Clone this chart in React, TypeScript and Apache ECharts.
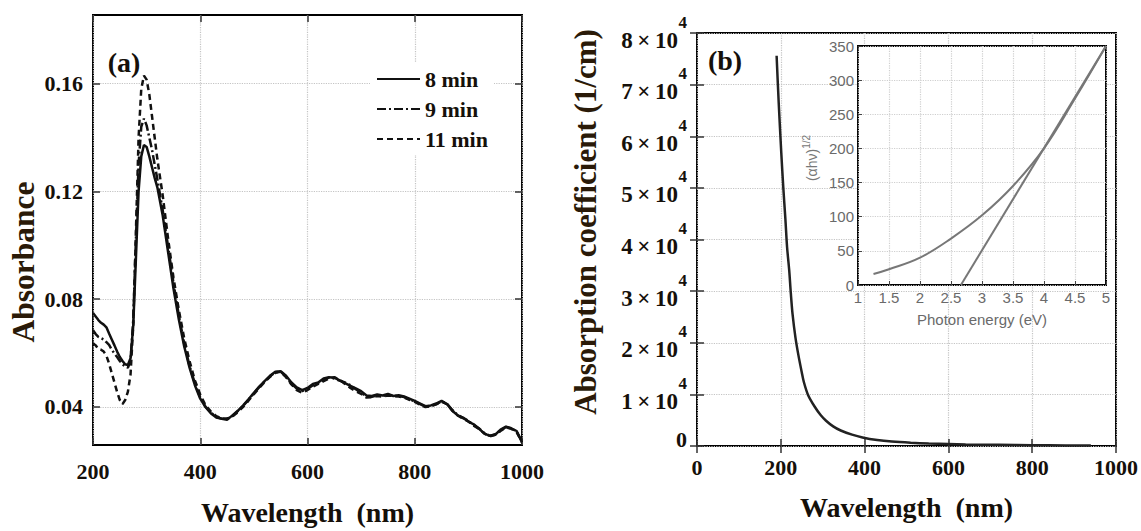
import { useEffect, useRef } from "react";
import * as echarts from "echarts";

// ---------- Panel (a): absorbance spectra ----------
const wavelengthA = [
  200, 205, 210, 215, 220, 225, 230, 235, 240, 245, 250, 255, 260, 265, 270, 275, 280, 285, 290, 295,
  300, 305, 310, 315, 320, 330, 340, 350, 360, 370, 380, 390, 400, 410, 420, 430, 440, 450, 460, 470,
  480, 490, 500, 510, 520, 530, 540, 550, 560, 570, 580, 590, 600, 610, 620, 630, 640, 650, 660, 670,
  680, 690, 700, 710, 720, 730, 740, 750, 760, 770, 780, 790, 800, 810, 820, 830, 840, 850, 860, 870,
  880, 890, 900, 910, 920, 930, 940, 950, 960, 970, 980, 990, 1000,
];
const abs8min = [
  0.0748, 0.0735, 0.0722, 0.0712, 0.0705, 0.0695, 0.0672, 0.065, 0.0628, 0.0605, 0.0585, 0.057, 0.0558, 0.0555, 0.058, 0.07, 0.095, 0.12, 0.133, 0.1372,
  0.1365, 0.133, 0.129, 0.125, 0.1215, 0.111, 0.0975, 0.084, 0.0725, 0.0625, 0.0545, 0.048, 0.043, 0.0398, 0.0375, 0.036, 0.0355, 0.0352, 0.0368, 0.0385,
  0.0405, 0.0428, 0.0452, 0.0475, 0.0495, 0.0515, 0.053, 0.0532, 0.0515, 0.049, 0.0472, 0.0462, 0.047, 0.0485, 0.049, 0.0505, 0.051, 0.0508, 0.0498, 0.0488,
  0.0478, 0.0468, 0.0458, 0.0442, 0.044, 0.0446, 0.0442, 0.0448, 0.044, 0.0443, 0.0438, 0.043, 0.0422, 0.0412, 0.0402, 0.0405, 0.0412, 0.0422, 0.041, 0.0385,
  0.0368, 0.036, 0.0345, 0.0335, 0.0318, 0.03, 0.0292, 0.0296, 0.0315, 0.0326, 0.032, 0.031, 0.0268,
];
const abs9min = [
  0.0684, 0.067, 0.066, 0.0655, 0.065, 0.064, 0.063, 0.0612, 0.0598, 0.0585, 0.057, 0.0558, 0.055, 0.0545, 0.057, 0.072, 0.102, 0.13, 0.144, 0.147,
  0.1445, 0.14, 0.1355, 0.13, 0.1245, 0.113, 0.0995, 0.086, 0.074, 0.0635, 0.0552, 0.0486, 0.0435, 0.04, 0.0378, 0.0362, 0.0356, 0.0355, 0.0366, 0.0384,
  0.0403, 0.0426, 0.045, 0.0473, 0.0494, 0.0513, 0.0528, 0.053, 0.0512, 0.0486, 0.0468, 0.0458, 0.0466, 0.048, 0.0488, 0.05, 0.0508, 0.0505, 0.0497, 0.049,
  0.048, 0.0465, 0.0452, 0.0438, 0.0437, 0.0443, 0.044, 0.0444, 0.0441, 0.044, 0.0436, 0.0428, 0.042, 0.041, 0.04, 0.0403, 0.041, 0.042, 0.0412, 0.0388,
  0.037, 0.0358, 0.0348, 0.0332, 0.032, 0.0302, 0.0292, 0.0298, 0.0312, 0.0325, 0.032, 0.0308, 0.027,
];
const abs11min = [
  0.0636, 0.0628, 0.0615, 0.0612, 0.0605, 0.059, 0.056, 0.0525, 0.049, 0.0455, 0.0425, 0.041, 0.0425, 0.0455, 0.052, 0.07, 0.105, 0.14, 0.158, 0.163,
  0.1615, 0.156, 0.148, 0.14, 0.132, 0.1185, 0.1025, 0.088, 0.076, 0.0655, 0.057, 0.0498, 0.0445, 0.0405, 0.0382, 0.0365, 0.0357, 0.0356, 0.0364, 0.038,
  0.04, 0.0423, 0.0447, 0.047, 0.0492, 0.0511, 0.0526, 0.053, 0.051, 0.0483, 0.0462, 0.0452, 0.0462, 0.0475, 0.0485, 0.0495, 0.0505, 0.051, 0.05, 0.0485,
  0.047, 0.0458, 0.0448, 0.0434, 0.0435, 0.044, 0.0438, 0.0442, 0.044, 0.0438, 0.0434, 0.0426, 0.0418, 0.0408, 0.0399, 0.0402, 0.0409, 0.0419, 0.041, 0.0386,
  0.0368, 0.0356, 0.0346, 0.033, 0.0318, 0.03, 0.029, 0.0296, 0.031, 0.0323, 0.0318, 0.0306, 0.0268,
];
const absTicks = [0.04, 0.08, 0.12, 0.16];
const seriesNamesA = ["8 min", "9 min", "11 min"];

// ---------- Panel (b): absorption coefficient ----------
const wavelengthB = [190, 195, 201, 206, 211, 215, 220, 224, 228, 235, 242, 250, 255, 265, 281, 295, 308, 325, 343, 370, 395, 430, 465, 510, 553, 600, 641, 720, 800, 880, 940];
const alphaB = [75600, 66500, 57000, 50000, 43900, 38500, 34100, 29500, 25600, 21000, 17600, 14300, 12400, 9900, 7600, 6000, 4900, 3800, 3000, 2200, 1650, 1150, 850, 620, 470, 380, 300, 220, 150, 110, 80];

// ---------- Inset: Tauc plot ----------
const photonEnergy = [1.25, 1.5, 2.0, 2.5, 3.0, 3.5, 4.0, 4.5, 5.0];
const taucValues = [16, 23, 40, 68, 102, 145, 200, 273, 350];
const fitEnergy = [2.66, 5.0];
const fitValues = [0, 350];

const SERIF = '"Times New Roman", "Liberation Serif", serif';
const SANS = '"Liberation Sans", Arial, Helvetica, sans-serif';
const TEXT = "#15100a";
const THIN = "\u2009";

export default function App() {
  const ref = useRef<HTMLDivElement>(null);

  useEffect(() => {
    const chart = echarts.init(ref.current as HTMLDivElement, null, { renderer: "svg" });
    const zip = (xs: number[], ys: number[]) => xs.map((x, i) => [x, ys[i]]);
    const dotted = { show: true, lineStyle: { color: "#c4c4c4", type: "dotted" as const, width: 1.2 } };
    const tickLabel = { color: TEXT, fontFamily: SERIF, fontWeight: "bold" as const, fontSize: 22 };
    const titleStyle = { color: TEXT, fontFamily: SERIF, fontWeight: "bold" as const, fontSize: 28 };
    const innerTick = (len: number, extra: any = {}) => ({ show: true, inside: true, length: len, lineStyle: { color: "#333", width: 1.5 }, ...extra });
    const insetLabel = { color: "#6a6a6a", fontFamily: SANS, fontSize: 15 };
    const plain = (v: number) => String(v);

    const option: any = {
      animation: false,
      backgroundColor: "#fff",
      grid: [
        { left: 93, top: 15, width: 429, height: 439, show: true, borderColor: "#000", borderWidth: 2, backgroundColor: "transparent" },
        { left: 697, top: 33, width: 421, height: 413, show: true, borderColor: "#000", borderWidth: 2, backgroundColor: "transparent" },
        { left: 858, top: 46, width: 248, height: 239, show: true, borderColor: "#000", borderWidth: 2, backgroundColor: "#fff", z: 3 },
      ],
      xAxis: [
        {
          type: "value", gridIndex: 0, min: 200, max: 1000, interval: 200,
          axisLine: { show: false }, axisTick: innerTick(7),
          axisLabel: { ...tickLabel, margin: 15, formatter: plain }, splitLine: dotted,
          name: "Wavelength  (nm)", nameLocation: "middle", nameGap: 53, nameTextStyle: titleStyle,
        },
        {
          type: "value", gridIndex: 0, position: "top", min: 200, max: 1000, interval: 200,
          axisLine: { show: false }, axisTick: innerTick(7), axisLabel: { show: false }, splitLine: { show: false },
        },
        {
          type: "value", gridIndex: 1, min: 0, max: 1000, interval: 200,
          axisLine: { show: false }, axisTick: innerTick(7),
          axisLabel: { ...tickLabel, margin: 10, formatter: plain }, splitLine: dotted,
          name: "Wavelength  (nm)", nameLocation: "middle", nameGap: 47, nameTextStyle: titleStyle,
        },
        {
          type: "value", gridIndex: 1, position: "top", min: 0, max: 1000, interval: 200,
          axisLine: { show: false }, axisTick: innerTick(7), axisLabel: { show: false }, splitLine: { show: false },
        },
        {
          type: "value", gridIndex: 2, min: 1, max: 5, interval: 0.5, z: 4,
          axisLine: { show: false }, axisTick: innerTick(4, { lineStyle: { color: "#444", width: 1 } }),
          axisLabel: { ...insetLabel, margin: 5 },
          splitLine: { show: true, lineStyle: { color: "#cfcfcf", type: "dotted", width: 1.2 } },
          name: "Photon energy (eV)", nameLocation: "middle", nameGap: 27, nameTextStyle: { ...insetLabel },
        },
      ],
      yAxis: [
        {
          type: "value", gridIndex: 0, min: 0.0258, max: 0.1855,
          axisLine: { show: false },
          axisTick: innerTick(7, { customValues: absTicks }),
          axisLabel: { ...tickLabel, margin: 10, customValues: absTicks, formatter: (v: number) => v.toFixed(2) },
          splitLine: dotted,
        },
        {
          type: "value", gridIndex: 0, position: "right", min: 0.0258, max: 0.1855,
          axisLine: { show: false }, axisTick: innerTick(7, { customValues: absTicks }),
          axisLabel: { show: false, customValues: absTicks }, splitLine: { show: false },
        },
        {
          type: "value", gridIndex: 1, min: 0, max: 80000, interval: 10000,
          axisLine: { show: false }, axisTick: innerTick(7),
          axisLabel: {
            margin: 10,
            formatter: (v: number) => (v === 0 ? "{z|0}" : `{s|4}\n{b|${v / 10000}${THIN}×${THIN}10}{sp| }`),
            rich: {
              b: { ...tickLabel, fontSize: 23, lineHeight: 22 },
              s: { ...tickLabel, fontSize: 17, lineHeight: 14 },
              sp: { ...tickLabel, fontSize: 15, width: 9 },
              z: { ...tickLabel, fontSize: 22, lineHeight: 22, padding: [0, 0, 14, 0] },
            },
          },
          splitLine: dotted,
        },
        {
          type: "value", gridIndex: 1, position: "right", min: 0, max: 80000, interval: 10000,
          axisLine: { show: false }, axisTick: innerTick(7), axisLabel: { show: false }, splitLine: { show: false },
        },
        {
          type: "value", gridIndex: 2, min: 0, max: 350, interval: 50, z: 4,
          axisLine: { show: false }, axisTick: innerTick(4, { lineStyle: { color: "#444", width: 1 } }),
          axisLabel: { ...insetLabel, margin: 4 },
          splitLine: { show: true, lineStyle: { color: "#cfcfcf", type: "dotted", width: 1.2 } },
        },
      ],
      legend: {
        data: seriesNamesA,
        orient: "vertical",
        left: 370,
        top: 63,
        itemWidth: 43,
        itemHeight: 14,
        itemGap: 6,
        padding: [4, 6, 4, 6],
        backgroundColor: "#fff",
        itemStyle: { opacity: 0 },
        textStyle: { ...tickLabel, fontSize: 22, lineHeight: 24 },
      },
      series: [
        {
          name: seriesNamesA[0], type: "line", xAxisIndex: 0, yAxisIndex: 0, symbol: "none",
          data: zip(wavelengthA, abs8min), lineStyle: { color: "#111", width: 2.5, type: "solid" },
          itemStyle: { color: "#111" },
        },
        {
          name: seriesNamesA[1], type: "line", xAxisIndex: 0, yAxisIndex: 0, symbol: "none",
          data: zip(wavelengthA, abs9min), lineStyle: { color: "#111", width: 2.5, type: [9, 3, 2, 3] },
          itemStyle: { color: "#111" },
        },
        {
          name: seriesNamesA[2], type: "line", xAxisIndex: 0, yAxisIndex: 0, symbol: "none",
          data: zip(wavelengthA, abs11min), lineStyle: { color: "#111", width: 2.5, type: [6, 4] },
          itemStyle: { color: "#111" },
        },
        {
          name: "alpha", type: "line", xAxisIndex: 2, yAxisIndex: 2, symbol: "none", smooth: 0.3,
          data: zip(wavelengthB, alphaB), lineStyle: { color: "#222", width: 2.5 },
        },
        {
          name: "tauc", type: "line", xAxisIndex: 4, yAxisIndex: 4, symbol: "none", smooth: 0.4, z: 5,
          data: zip(photonEnergy, taucValues), lineStyle: { color: "#777", width: 2 },
        },
        {
          name: "fit", type: "line", xAxisIndex: 4, yAxisIndex: 4, symbol: "none", z: 5,
          data: zip(fitEnergy, fitValues), lineStyle: { color: "#777", width: 2 },
        },
      ],
      graphic: [
        { type: "text", x: 124, y: 62, style: { text: "(a)", fontFamily: SERIF, fontWeight: "bold", fontSize: 28, fill: TEXT, align: "center", verticalAlign: "middle" } },
        { type: "text", x: 725, y: 60, style: { text: "(b)", fontFamily: SERIF, fontWeight: "bold", fontSize: 28, fill: TEXT, align: "center", verticalAlign: "middle" } },
        { type: "text", x: 23, y: 262, rotation: Math.PI / 2, style: { text: "Absorbance", fontFamily: SERIF, fontWeight: "bold", fontSize: 31.5, fill: "#2a1a08", align: "center", verticalAlign: "middle" } },
        { type: "text", x: 585, y: 222, rotation: Math.PI / 2, style: { text: "Absorption coefficient (1/cm)", fontFamily: SERIF, fontWeight: "bold", fontSize: 31, fill: "#2a1a08", align: "center", verticalAlign: "middle" } },
        {
          type: "text", x: 812, y: 158, rotation: Math.PI / 2, z: 10,
          style: {
            text: "{m|(αhν)}{s|1/2}", align: "center", verticalAlign: "middle",
            rich: {
              m: { fontFamily: SANS, fontSize: 14, fill: "#777" },
              s: { fontFamily: SANS, fontSize: 10, fill: "#777", padding: [0, 0, 12, 0] },
            },
          },
        },
      ],
    };

    chart.setOption(option);
    return () => chart.dispose();
  }, []);

  return (
    <div
      ref={ref}
      style={{ position: "fixed", left: 0, top: 0, width: 1141, height: 531, background: "#fff" }}
    />
  );
}
